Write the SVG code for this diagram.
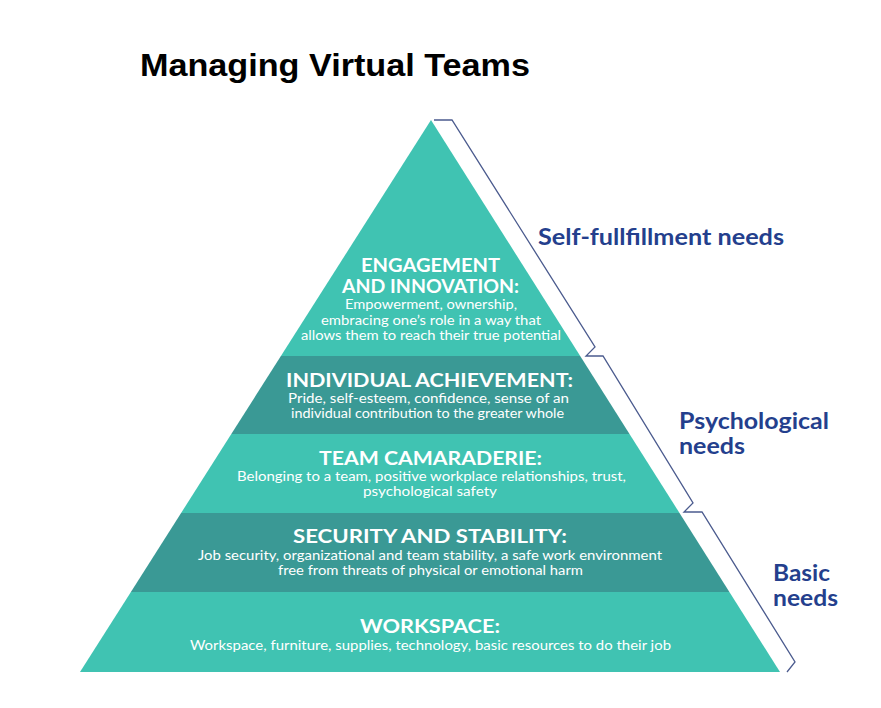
<svg xmlns="http://www.w3.org/2000/svg" width="881" height="708" viewBox="0 0 881 708">
<style>
.light{fill:#40c3b2}
.dark{fill:#3a9995}
.h{font-family:Lato,"Open Sans",sans-serif;font-weight:700;fill:#ffffff;text-anchor:middle;font-size:19.5px}
.b{font-family:Lato,"Open Sans",sans-serif;font-weight:400;fill:#ffffff;text-anchor:middle;font-size:13.5px}
.lbl{font-family:Lato,"Open Sans",sans-serif;font-weight:700;fill:#243f8d;font-size:22px}
.br{fill:none;stroke:#4b5b8e;stroke-width:1.3;stroke-linejoin:miter}
</style>
<rect width="881" height="708" fill="#ffffff"/>
<text x="140" y="76" font-family="'Liberation Sans',Arial,sans-serif" font-weight="700" font-size="32" fill="#000000" textLength="390" lengthAdjust="spacingAndGlyphs">Managing Virtual Teams</text>

<g id="engagement">
<polygon class="light" points="431,120 580.2,356 280.9,356"/>
<text class="h" x="430.5" y="272" textLength="139" lengthAdjust="spacingAndGlyphs">ENGAGEMENT</text>
<text class="h" x="430.5" y="293" textLength="177" lengthAdjust="spacingAndGlyphs">AND INNOVATION:</text>
<text class="b" x="431" y="309" textLength="172" lengthAdjust="spacingAndGlyphs">Empowerment, ownership,</text>
<text class="b" x="431" y="325" textLength="220" lengthAdjust="spacingAndGlyphs">embracing one’s role in a way that</text>
<text class="b" x="431" y="340" textLength="260" lengthAdjust="spacingAndGlyphs">allows them to reach their true potential</text>
</g>

<g id="individual">
<polygon class="dark" points="280.9,356 580.2,356 629.5,434 231.3,434"/>
<text class="h" x="429.5" y="387" textLength="287" lengthAdjust="spacingAndGlyphs">INDIVIDUAL ACHIEVEMENT:</text>
<text class="b" x="428.5" y="403" textLength="281" lengthAdjust="spacingAndGlyphs">Pride, self-esteem, confidence, sense of an</text>
<text class="b" x="427.5" y="418" textLength="273" lengthAdjust="spacingAndGlyphs">individual contribution to the greater whole</text>
</g>

<g id="team">
<polygon class="light" points="231.3,434 629.5,434 679.5,513 181.1,513"/>
<text class="h" x="430.5" y="465" textLength="223" lengthAdjust="spacingAndGlyphs">TEAM CAMARADERIE:</text>
<text class="b" x="431.5" y="481" textLength="389" lengthAdjust="spacingAndGlyphs">Belonging to a team, positive workplace relationships, trust,</text>
<text class="b" x="430" y="496" textLength="134" lengthAdjust="spacingAndGlyphs">psychological safety</text>
</g>

<g id="security">
<polygon class="dark" points="181.1,513 679.5,513 729.4,592 130.9,592"/>
<text class="h" x="430" y="543" textLength="274" lengthAdjust="spacingAndGlyphs">SECURITY AND STABILITY:</text>
<text class="b" x="430" y="560" textLength="464" lengthAdjust="spacingAndGlyphs">Job security, organizational and team stability, a safe work environment</text>
<text class="b" x="430.5" y="575" textLength="305" lengthAdjust="spacingAndGlyphs">free from threats of physical or emotional harm</text>
</g>

<g id="workspace">
<polygon class="light" points="130.9,592 729.4,592 780,672 80,672"/>
<text class="h" x="430" y="633" textLength="140" lengthAdjust="spacingAndGlyphs">WORKSPACE:</text>
<text class="b" x="430.5" y="650" font-size="13" textLength="481" lengthAdjust="spacingAndGlyphs">Workspace, furniture, supplies, technology, basic resources to do their job</text>
</g>

<g id="connectors">
<polyline class="br" points="434,120 452,120 595,347 586,356 603,356 693,503 684,512 702,512 795,662 787,672"/>
</g>

<g id="label-self">
<text class="lbl" x="538" y="245" textLength="246" lengthAdjust="spacingAndGlyphs">Self-fullfillment needs</text>
</g>
<g id="label-psych">
<text class="lbl" x="679" y="429" textLength="150" lengthAdjust="spacingAndGlyphs">Psychological</text>
<text class="lbl" x="679" y="454" textLength="66" lengthAdjust="spacingAndGlyphs">needs</text>
</g>
<g id="label-basic">
<text class="lbl" x="773" y="581" textLength="57" lengthAdjust="spacingAndGlyphs">Basic</text>
<text class="lbl" x="773" y="606" textLength="65" lengthAdjust="spacingAndGlyphs">needs</text>
</g>
</svg>
